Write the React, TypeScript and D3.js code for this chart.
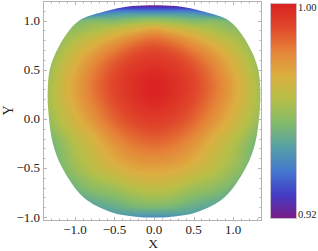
import React, { useMemo } from 'react';
import * as d3 from 'd3';

const gridX = [-1.4, -1.1, -0.8, -0.5, -0.25, 0, 0.25, 0.5, 0.8, 1.1, 1.4];
const gridY = [-1.05, -0.9, -0.7, -0.5, -0.25, 0, 0.3, 0.55, 0.75, 0.9, 1.0, 1.08, 1.16];
const gridValues = [
  [0.945, 0.944, 0.943, 0.942, 0.938, 0.936, 0.938, 0.942, 0.943, 0.944, 0.945],
  [0.940, 0.944, 0.947, 0.950, 0.953, 0.954, 0.953, 0.950, 0.947, 0.944, 0.940],
  [0.940, 0.950, 0.957, 0.961, 0.965, 0.967, 0.965, 0.961, 0.957, 0.950, 0.940],
  [0.945, 0.957, 0.965, 0.971, 0.975, 0.976, 0.975, 0.971, 0.965, 0.957, 0.945],
  [0.948, 0.961, 0.970, 0.979, 0.984, 0.986, 0.984, 0.979, 0.970, 0.961, 0.948],
  [0.957, 0.968, 0.978, 0.987, 0.992, 0.994, 0.992, 0.987, 0.978, 0.968, 0.957],
  [0.959, 0.972, 0.983, 0.992, 0.997, 1.000, 0.997, 0.992, 0.983, 0.972, 0.959],
  [0.956, 0.969, 0.980, 0.989, 0.994, 0.996, 0.994, 0.989, 0.980, 0.969, 0.956],
  [0.952, 0.963, 0.972, 0.980, 0.986, 0.989, 0.986, 0.980, 0.972, 0.963, 0.952],
  [0.948, 0.957, 0.962, 0.968, 0.973, 0.977, 0.973, 0.968, 0.962, 0.957, 0.948],
  [0.935, 0.948, 0.955, 0.955, 0.958, 0.960, 0.958, 0.955, 0.955, 0.948, 0.935],
  [0.925, 0.930, 0.935, 0.942, 0.943, 0.943, 0.943, 0.942, 0.935, 0.930, 0.925],
  [0.905, 0.910, 0.915, 0.918, 0.920, 0.920, 0.920, 0.918, 0.915, 0.910, 0.905],
];

// outline of the region, clockwise from the top
const boundaryX = [0, 0.28, 0.64, 0.95, 1.12, 1.24, 1.32, 1.345, 1.335, 1.28, 1.16, 0.89, 0.54, 0.26, 0,
  -0.26, -0.54, -0.89, -1.16, -1.28, -1.335, -1.345, -1.32, -1.24, -1.12, -0.95, -0.64, -0.28];
const boundaryY = [1.158, 1.148, 1.09, 1.0, 0.85, 0.68, 0.5, 0.3, 0.05, -0.25, -0.5, -0.8, -0.95, -0.993, -1.005,
  -0.993, -0.95, -0.8, -0.5, -0.25, 0.05, 0.3, 0.5, 0.68, 0.85, 1.0, 1.09, 1.148];

const xTickValues = [-1.0, -0.5, 0.0, 0.5, 1.0];
const xTickLabels = ['\u22121.0', '\u22120.5', '0.0', '0.5', '1.0'];
const yTickValues = [-1.0, -0.5, 0.0, 0.5, 1.0];
const yTickLabels = ['\u22121.0', '\u22120.5', '0.0', '0.5', '1.0'];
const valueMin = 0.92;
const valueMax = 1.0;
const colorbarLabels = ['1.00', '0.92'];

const rainbow = ['#781c86', '#433cc6', '#4479cf', '#56a1a4', '#83bb6b', '#b5bf48', '#dcaf40', '#e58338', '#e0482b', '#da2222'];

const W = 318, H = 251;
const plot = { left: 43, right: 262, top: 1, bottom: 221 };
const bar = { x: 270.5, y: 3.5, w: 26, h: 215 };
const font = '"Liberation Serif", "DejaVu Serif", serif';

const xScale = d3.scaleLinear().domain([-1.405, 1.367]).range([plot.left, plot.right]);
const yScale = d3.scaleLinear().domain([-1.04, 1.2]).range([plot.bottom, plot.top]);
const color = d3.scaleLinear<string>()
  .domain(rainbow.map((_, i) => valueMin + (valueMax - valueMin) * i / (rainbow.length - 1)))
  .range(rainbow)
  .clamp(true);

// cubic hermite through the samples (smooth shading between grid nodes)
function hermite(xs: number[], vs: number[], x: number) {
  const n = xs.length;
  const i = Math.max(0, Math.min(n - 2, d3.bisectRight(xs, x) - 1));
  const h = xs[i + 1] - xs[i];
  const t = Math.max(0, Math.min(1, (x - xs[i]) / h));
  const slope = (k: number) => {
    if (k === 0) return (vs[1] - vs[0]) / (xs[1] - xs[0]);
    if (k === n - 1) return (vs[n - 1] - vs[n - 2]) / (xs[n - 1] - xs[n - 2]);
    return (vs[k + 1] - vs[k - 1]) / (xs[k + 1] - xs[k - 1]);
  };
  const m0 = slope(i) * h, m1 = slope(i + 1) * h;
  const t2 = t * t, t3 = t2 * t;
  return (2 * t3 - 3 * t2 + 1) * vs[i] + (t3 - 2 * t2 + t) * m0 + (-2 * t3 + 3 * t2) * vs[i + 1] + (t3 - t2) * m1;
}

function sampleField(x: number, y: number) {
  const column = gridValues.map(row => hermite(gridX, row, x));
  return hermite(gridY, column, y);
}

export default function App() {
  const imgW = plot.right - plot.left;
  const imgH = plot.bottom - plot.top;

  const href = useMemo(() => {
    const canvas = document.createElement('canvas');
    canvas.width = imgW;
    canvas.height = imgH;
    const ctx = canvas.getContext('2d');
    if (!ctx) return '';
    const img = ctx.createImageData(imgW, imgH);
    for (let py = 0; py < imgH; py++) {
      const yv = yScale.invert(plot.top + py + 0.5);
      for (let px = 0; px < imgW; px++) {
        const xv = xScale.invert(plot.left + px + 0.5);
        const c = d3.rgb(color(sampleField(xv, yv)));
        const k = (py * imgW + px) * 4;
        img.data[k] = c.r;
        img.data[k + 1] = c.g;
        img.data[k + 2] = c.b;
        img.data[k + 3] = 255;
      }
    }
    ctx.putImageData(img, 0, 0);
    return canvas.toDataURL();
  }, []);

  const outline = d3.line<number>()
    .x(i => xScale(boundaryX[i]))
    .y(i => yScale(boundaryY[i]))
    .curve(d3.curveCatmullRomClosed.alpha(0.5))(boundaryX.map((_, i) => i)) || '';

  const xMinor = xScale.ticks(25);
  const yMinor = yScale.ticks(20);
  const isMajor = (v: number) => Math.abs(v * 2 - Math.round(v * 2)) < 1e-6;
  const tickColor = '#b4b4b4';

  return (
    <svg width={W} height={H} style={{ position: 'absolute', left: 0, top: 0, background: '#fff' }}>
      <defs>
        <clipPath id="shape">
          <path d={outline} />
        </clipPath>
        <linearGradient id="bar" x1="0" y1="1" x2="0" y2="0">
          {rainbow.map((c, i) => (
            <stop key={i} offset={i / (rainbow.length - 1)} stopColor={c} />
          ))}
        </linearGradient>
      </defs>

      <image href={href} x={plot.left} y={plot.top} width={imgW} height={imgH}
        preserveAspectRatio="none" clipPath="url(#shape)" />

      {/* frame */}
      <rect x={plot.left + 0.5} y={plot.top + 0.5} width={imgW - 1} height={imgH - 1}
        fill="none" stroke={tickColor} strokeWidth={1} />
      {xMinor.map(v => {
        const len = isMajor(v) ? 4 : 2.5;
        const x = Math.round(xScale(v)) + 0.5;
        return (
          <g key={'x' + v}>
            <line x1={x} x2={x} y1={plot.bottom} y2={plot.bottom - len} stroke={tickColor} />
            <line x1={x} x2={x} y1={plot.top} y2={plot.top + len} stroke={tickColor} />
          </g>
        );
      })}
      {yMinor.map(v => {
        const len = isMajor(v) ? 4 : 2.5;
        const y = Math.round(yScale(v)) + 0.5;
        return (
          <g key={'y' + v}>
            <line x1={plot.left} x2={plot.left + len} y1={y} y2={y} stroke={tickColor} />
            <line x1={plot.right} x2={plot.right - len} y1={y} y2={y} stroke={tickColor} />
          </g>
        );
      })}

      {xTickValues.map((v, i) => (
        <text key={'xl' + v} x={xScale(v)} y={233.5} textAnchor="middle"
          fontFamily={font} fontSize={13} fill="#222">{xTickLabels[i]}</text>
      ))}
      {yTickValues.map((v, i) => (
        <text key={'yl' + v} x={40} y={yScale(v) + 4.5} textAnchor="end"
          fontFamily={font} fontSize={13} fill="#222">{yTickLabels[i]}</text>
      ))}

      <text x={153} y={248.3} textAnchor="middle" fontFamily={font} fontSize={13.5} fill="#222">X</text>
      <text transform={`translate(12.5, 110.5) rotate(-90)`} textAnchor="middle"
        fontFamily={font} fontSize={14} fill="#222">Y</text>

      {/* colorbar */}
      <rect x={bar.x} y={bar.y} width={bar.w} height={bar.h} fill="url(#bar)"
        stroke="#cfc4cf" strokeWidth={0.8} />
      <text x={298} y={10.5} fontFamily={font} fontSize={10.5} fill="#222">{colorbarLabels[0]}</text>
      <text x={298} y={217.5} fontFamily={font} fontSize={10.5} fill="#222">{colorbarLabels[1]}</text>
    </svg>
  );
}
